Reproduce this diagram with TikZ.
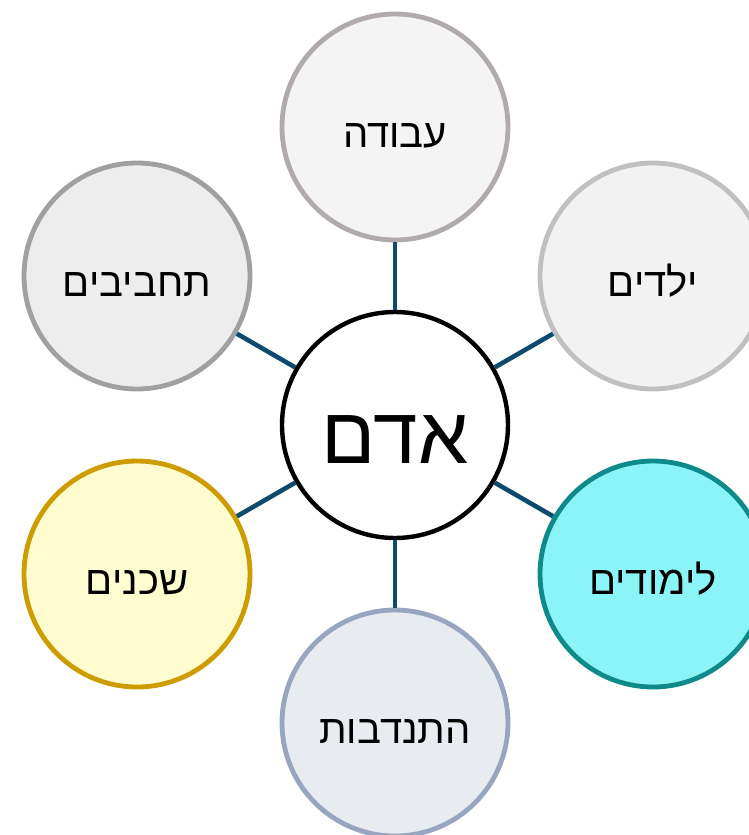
\documentclass[tikz,border=0pt]{standalone}
\usepackage{fontspec}
\setmainfont{Liberation Sans}
\newfontfamily\heb[Script=Hebrew]{Liberation Sans}
\TeXXeTstate=1
\newcommand{\htxt}[2]{\raisebox{-#1}[0pt][0pt]{\beginR #2\endR}}
\begin{document}
\begin{tikzpicture}[x=1pt,y=1pt,
  bubble/.style={circle,minimum size=226pt,inner sep=0pt,line width=4.8pt,font=\heb\fontsize{40}{40}\selectfont},
  link/.style={line width=4.6pt,draw={rgb,255:red,12;green,74;blue,110}}]
\useasboundingbox (0,0) rectangle (749,-835);
\clip (0,0) rectangle (749,-835);
\definecolor{cA}{RGB}{176,170,170}\definecolor{fA}{RGB}{244,244,244}
\definecolor{cB}{RGB}{192,192,192}\definecolor{fB}{RGB}{242,242,242}
\definecolor{cC}{RGB}{15,138,138}\definecolor{fC}{RGB}{138,244,246}
\definecolor{cD}{RGB}{151,165,192}\definecolor{fD}{RGB}{232,235,240}
\definecolor{cE}{RGB}{204,156,0}\definecolor{fE}{RGB}{255,253,208}
\definecolor{cF}{RGB}{160,160,160}\definecolor{fF}{RGB}{237,237,237}
\node[bubble,draw=black,fill=white,line width=4.4pt,font=\heb\fontsize{80}{80}\selectfont] (c) at (395,-425) {\htxt{38pt}{אדם}};
\node[bubble,draw=cA,fill=fA] (n1) at (395,-127) {\htxt{20pt}{עבודה}};
\node[bubble,draw=cB,fill=fB] (n2) at (653,-276) {\htxt{20pt}{ילדים}};
\node[bubble,draw=cC,fill=fC] (n3) at (653,-574) {\htxt{20pt}{לימודים}};
\node[bubble,draw=cD,fill=fD] (n4) at (395,-723) {\htxt{20pt}{התנדבות}};
\node[bubble,draw=cE,fill=fE] (n5) at (137,-574) {\htxt{20pt}{שכנים}};
\node[bubble,draw=cF,fill=fF] (n6) at (137,-276) {\htxt{20pt}{תחביבים}};
\foreach \n in {n1,n2,n3,n4,n5,n6} \draw[link] (c) -- (\n);
\end{tikzpicture}
\end{document}
